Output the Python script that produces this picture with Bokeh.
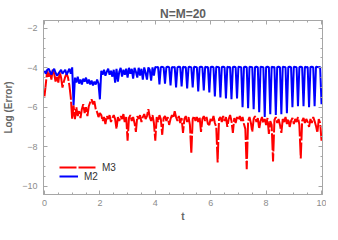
import numpy as np
from bokeh.plotting import figure
from bokeh.models import LinearAxis, SingleIntervalTicker, Legend, LegendItem, Range1d
from bokeh.embed import file_html
from bokeh.resources import INLINE

# ---- data ----
t = np.round(np.arange(201) * 0.05, 2)  # time grid 0..10, step 0.05

m3 = [
    -5.45, -4.8, -4.15, -4.45, -4.2, -4.6, -4.05, -4.3, -4.7, -4.4,
    -4.75, -4.2, -4.5, -5.0, -4.7, -4.45, -4.3, -4.5, -4.9, -5.5,
    -6.6,
    -5.9, -6.6, -6.0, -6.45, -6.2, -6.55, -6.1, -5.85, -6.3, -6.0,
    -6.45, -5.95, -5.75, -5.6, -5.85, -5.7, -6.1, -6.25, -6.5, -6.3,
    -6.4, -6.7, -6.5, -6.85, -6.45, -6.6, -6.4, -6.75, -6.55, -6.4,
    -6.6, -7.1, -6.5, -6.7, -6.45, -6.6, -6.35, -6.8, -6.5, -7.7,
    -6.55, -6.4, -6.7, -6.5, -6.8, -7.25, -6.45, -6.6, -6.4, -6.75,
    -6.5, -6.35, -6.6, -6.45, -6.1, -6.5, -6.7, -6.4, -6.8, -7.7,
    -6.5, -6.75, -6.4, -6.6, -7.4, -6.55, -6.45, -6.7, -6.5, -6.9,
    -6.6, -6.4, -6.55, -6.2, -6.5, -6.7, -6.45, -6.8, -6.55, -7.3,
    -6.6, -6.45, -6.75, -6.5, -6.9, -8.35, -6.6, -6.45, -6.7, -6.5,
    -6.75, -6.5, -7.25, -6.6, -6.45, -6.7, -6.5, -6.85, -6.9, -6.55,
    -6.7, -6.45, -6.8, -7.0, -8.8, -6.6, -6.5, -6.75, -6.45, -6.7,
    -6.5, -7.0, -6.6, -6.4, -6.7, -7.3, -6.55, -6.8, -6.5, -6.65,
    -6.45, -6.7, -6.5, -6.85, -7.1, -9.15, -6.7, -6.5, -6.8, -7.25,
    -6.6, -6.45, -6.75, -6.55, -7.1, -6.7, -6.5, -6.8, -6.6, -6.9,
    -6.55, -7.35, -6.7, -6.9, -8.75, -6.65, -6.5, -6.8, -6.6, -6.9,
    -7.3, -6.6, -6.75, -6.5, -6.85, -6.6, -7.0, -6.7, -6.55, -6.85,
    -6.6, -6.75, -6.5, -6.9, -8.6, -6.7, -6.55, -6.8, -6.6, -6.75,
    -7.0, -6.6, -6.8, -6.5, -6.7, -6.95, -7.3, -6.6, -6.8, -7.7,
]

m2 = [
    -4.15, -4.3, -4.1, -4.05, -4.2, -4.35, -4.15, -4.05, -4.25, -4.4,
    -4.3, -4.2, -4.1, -4.3, -4.2, -4.1, -4.35, -4.2, -4.05, -4.3,
    -3.98,
    -5.9, -4.5, -4.75, -4.45, -4.8, -4.6, -4.85, -4.55, -4.7, -4.5,
    -4.8, -4.6, -4.85, -4.65, -4.9, -4.7, -4.85, -4.6, -4.8, -5.6,
    -4.15, -4.35, -4.1, -4.4, -4.2, -4.05, -4.35, -4.15, -4.45, -4.1,
    -4.75, -4.05, -4.7, -4.2, -4.0, -4.45, -4.1, -4.35, -4.05, -4.5,
    -4.0, -4.3, -4.05, -4.55, -4.0, -4.2, -4.5, -4.0, -4.4, -4.05,
    -4.6, -3.98, -4.25, -4.6, -3.98, -4.1, -4.65, -3.98, -4.4,
    -3.96, -3.98, -3.95, -4.85,
    -3.97, -3.95, -3.98, -4.8,
    -3.96, -3.95, -3.97, -4.9,
    -3.96, -3.98, -3.95, -5.0,
    -3.97, -3.95, -3.96, -4.95,
    -3.95, -3.97, -3.96, -5.05,
    -3.96, -3.95, -3.98, -5.0,
    -3.95, -3.96, -3.97, -5.2,
    -3.96, -3.95, -3.97, -5.15,
    -3.95, -3.97, -3.96, -5.25,
    -3.96, -3.95, -3.97, -5.45,
    -3.95, -3.96, -3.97, -5.5,
    -3.96, -3.95, -3.97, -5.55,
    -3.95, -3.97, -3.96, -5.6,
    -3.96, -3.95, -3.97, -5.55,
    -3.95, -3.96, -3.97, -6.0,
    -3.96, -3.95, -3.97, -6.05,
    -3.95, -3.96, -3.97, -6.1,
    -3.96, -3.95, -3.97, -6.25,
    -3.95, -3.96, -3.97, -6.5,
    -3.96, -3.95, -3.97, -6.35,
    -3.95, -3.97, -3.96, -6.4,
    -3.96, -3.95, -3.97, -6.35,
    -3.95, -3.96, -3.97, -6.3,
    -3.96, -3.95, -3.97, -6.0,
    -3.95, -3.96, -3.97, -5.95,
    -3.96, -3.95, -3.97, -5.95,
    -3.95, -3.97, -3.96, -6.0,
    -3.96, -3.95, -3.97, -5.95,
    -3.95, -3.96, -3.97, -3.96, -5.85,
]

series_names = ["M3", "M2"]
series_colors = ["#ff0000", "#0000ff"]
title_text = "N=M=20"
x_label = "t"
y_label = "Log (Error)"
y_tick_values = [-10, -8, -6, -4, -2]
y_tick_labels = ["\u221210", "\u22128", "\u22126", "\u22124", "\u22122"]

FONT = "Liberation Sans"
FRAME = "#a6a6a6"

p = figure(width=326, height=224, output_backend="svg", toolbar_location=None,
           x_range=Range1d(-0.035, 10.035), y_range=Range1d(-10.43, -1.6),
           min_border_left=41, min_border_right=4, min_border_top=20,
           min_border_bottom=28)
p.grid.visible = False
p.outline_line_color = FRAME
p.background_fill_color = "white"
p.border_fill_color = "white"

p.title.text = title_text
p.title.align = "center"
p.title.text_font = FONT
p.title.text_font_size = "12px"
p.title.text_font_style = "bold"
p.title.text_color = "#5f5f5f"
p.title.standoff = 0
p.title.offset = 0


def style_axis(ax, show_labels):
    ax.ticker = SingleIntervalTicker(interval=2, num_minor_ticks=4)
    ax.axis_line_color = FRAME
    ax.major_tick_line_color = FRAME
    ax.minor_tick_line_color = FRAME
    ax.major_tick_in = 4
    ax.major_tick_out = 0
    ax.minor_tick_in = 2
    ax.minor_tick_out = 0
    if show_labels:
        ax.major_label_text_font = FONT
        ax.major_label_text_font_size = "9px"
        ax.major_label_text_color = "#8c8c8c"
        ax.axis_label_text_font = FONT
        ax.axis_label_text_font_size = "10px"
        ax.axis_label_text_font_style = "bold"
        ax.axis_label_text_color = "#666666"
    else:
        ax.major_label_text_color = None
        ax.major_label_text_font_size = "1px"
        ax.major_label_standoff = 0
        ax.axis_label_standoff = 0


xa = p.xaxis[0]
ya = p.yaxis[0]
style_axis(xa, True)
style_axis(ya, True)
xa.axis_label = x_label
ya.axis_label = y_label
xa.major_label_standoff = 5
xa.axis_label_standoff = 2
ya.major_label_standoff = 6
ya.axis_label_standoff = 5
ya.major_label_overrides = dict(zip(y_tick_values, y_tick_labels))

top = LinearAxis()
right = LinearAxis()
style_axis(top, False)
style_axis(right, False)
p.add_layout(top, "above")
p.add_layout(right, "right")

r3 = p.line(t, m3, line_color=series_colors[0], line_width=2, line_dash="17 2")
r2 = p.line(t, m2, line_color=series_colors[1], line_width=2)


def make_legend(name, rend, gw, loc):
    lg = Legend(items=[LegendItem(label=name, renderers=[rend])], location=loc,
                glyph_width=gw, glyph_height=12, label_height=12,
                label_standoff=6, padding=0, margin=0, spacing=0,
                border_line_color=None, background_fill_alpha=0,
                label_text_font=FONT, label_text_font_size="10px",
                label_text_color="#333333")
    p.add_layout(lg)


make_legend(series_names[0], r3, 37, (16, 21))
make_legend(series_names[1], r2, 19, (16, 12))

open("out.html", "w").write(file_html(p, INLINE))
